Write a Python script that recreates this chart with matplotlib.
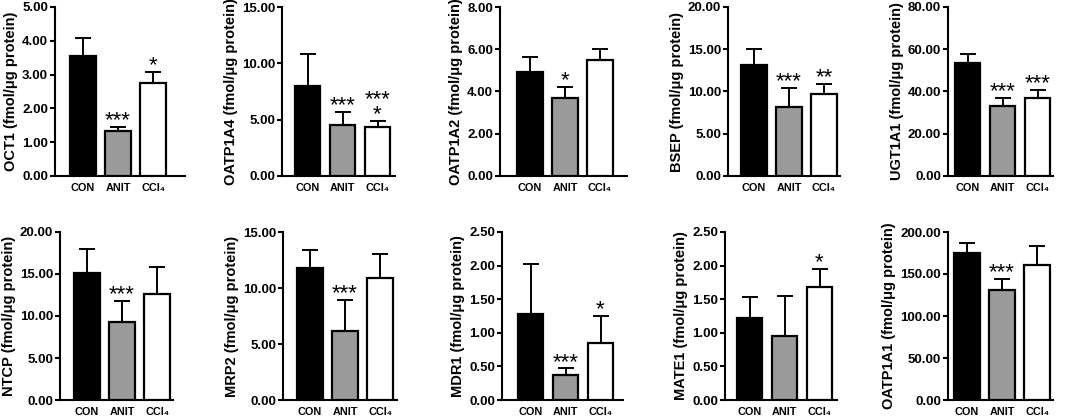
import matplotlib
matplotlib.use('Agg')
import matplotlib.pyplot as plt
import numpy as np

plt.rcParams['font.family'] = ['Liberation Sans', 'DejaVu Sans']

groups = ['CON', 'ANIT', 'CCl₄']
colors = ['black', '#9a9a9a', 'white']

proteins = ['OCT1', 'OATP1A4', 'OATP1A2', 'BSEP', 'UGT1A1',
            'NTCP', 'MRP2', 'MDR1', 'MATE1', 'OATP1A1']

means = [[3.55, 1.32, 2.75],
         [8.02, 4.57, 4.34],
         [4.91, 3.71, 5.47],
         [13.15, 8.20, 9.66],
         [53.4, 33.1, 36.75],
         [15.07, 9.27, 12.62],
         [11.81, 6.20, 10.87],
         [1.28, 0.37, 0.85],
         [1.22, 0.955, 1.68],
         [174.7, 130.7, 161.2]]

sds = [[0.53, 0.13, 0.33],
       [2.82, 1.13, 0.53],
       [0.70, 0.51, 0.54],
       [1.85, 2.26, 1.27],
       [4.4, 3.65, 3.95],
       [2.88, 2.53, 3.24],
       [1.56, 2.72, 2.21],
       [0.75, 0.10, 0.40],
       [0.31, 0.59, 0.275],
       [12.6, 13.5, 22.6]]

stars = [['', '***', '*'],
         ['', '***', '***\n*'],
         ['', '*', ''],
         ['', '***', '**'],
         ['', '***', '***'],
         ['', '***', ''],
         ['', '***', ''],
         ['', '***', '*'],
         ['', '', '*'],
         ['', '***', '']]

ymax = [5, 15, 8, 20, 80, 20, 15, 2.5, 2.5, 200]
ystep = [1, 5, 2, 5, 20, 5, 5, 0.5, 0.5, 50]

# panel geometry in pixels: axis left, first bar centre, axis right
W, H = 1072, 419
geom = [(55, 83, 185), (282, 307.5, 395), (500, 530, 627), (728, 754, 840), (948, 967.5, 1053),
        (60, 87, 173), (283, 310, 397), (502, 530.5, 623), (725, 749.5, 837), (948, 967, 1053)]
rows = [(7, 176), (232, 400)]
sp = 35.0  # px between bar centres

fig = plt.figure(figsize=(W / 100, H / 100), dpi=100)

for i in range(10):
    axl, c0, axr = geom[i]
    top, bot = rows[i // 5]
    ax = fig.add_axes([axl / W, (H - bot) / H, (axr - axl) / W, (bot - top) / H])
    x = np.arange(3)
    ax.bar(x, means[i], width=0.72, color=colors, edgecolor='black', linewidth=1.6, zorder=3)
    ax.errorbar(x, means[i], yerr=[[0, 0, 0], sds[i]], fmt='none', ecolor='black',
                elinewidth=1.4, capsize=5.5, capthick=1.4, zorder=2)
    for j in range(3):
        s = stars[i][j]
        if not s:
            continue
        if '\n' in s:
            # stacked marks, one text with tight line spacing
            ax.annotate(s, xy=(j, means[i][j] + sds[i][j]), xytext=(0, -3),
                        textcoords='offset points', ha='center', va='bottom',
                        fontsize=16, linespacing=0.62, multialignment='center')
        else:
            ax.annotate(s, xy=(j, means[i][j] + sds[i][j]), xytext=(0, 0.5),
                        textcoords='offset points', ha='center', va='baseline',
                        fontsize=16)
    left = -(c0 - axl) / sp
    ax.set_xlim(left, left + (axr - axl) / sp)
    ax.set_ylim(0, ymax[i])
    ax.set_yticks(np.arange(0, ymax[i] + ystep[i] / 2, ystep[i]))
    ax.set_yticklabels(['%.2f' % v for v in ax.get_yticks()], fontweight='bold', fontsize=9.5)
    ax.set_xticks(x)
    ax.set_xticklabels(groups, fontweight='bold', fontsize=7.8)
    ax.tick_params(axis='x', length=0, pad=5)
    ax.tick_params(axis='y', length=3.5, width=1.5, pad=1.5)
    for sp_name in ['top', 'right']:
        ax.spines[sp_name].set_visible(False)
    for sp_name in ['left', 'bottom']:
        ax.spines[sp_name].set_linewidth(1.5)
    ax.set_ylabel(proteins[i] + ' (fmol/μg protein)', fontweight='bold', fontsize=10.5, labelpad=3)

fig.savefig('out.png', dpi=100)
